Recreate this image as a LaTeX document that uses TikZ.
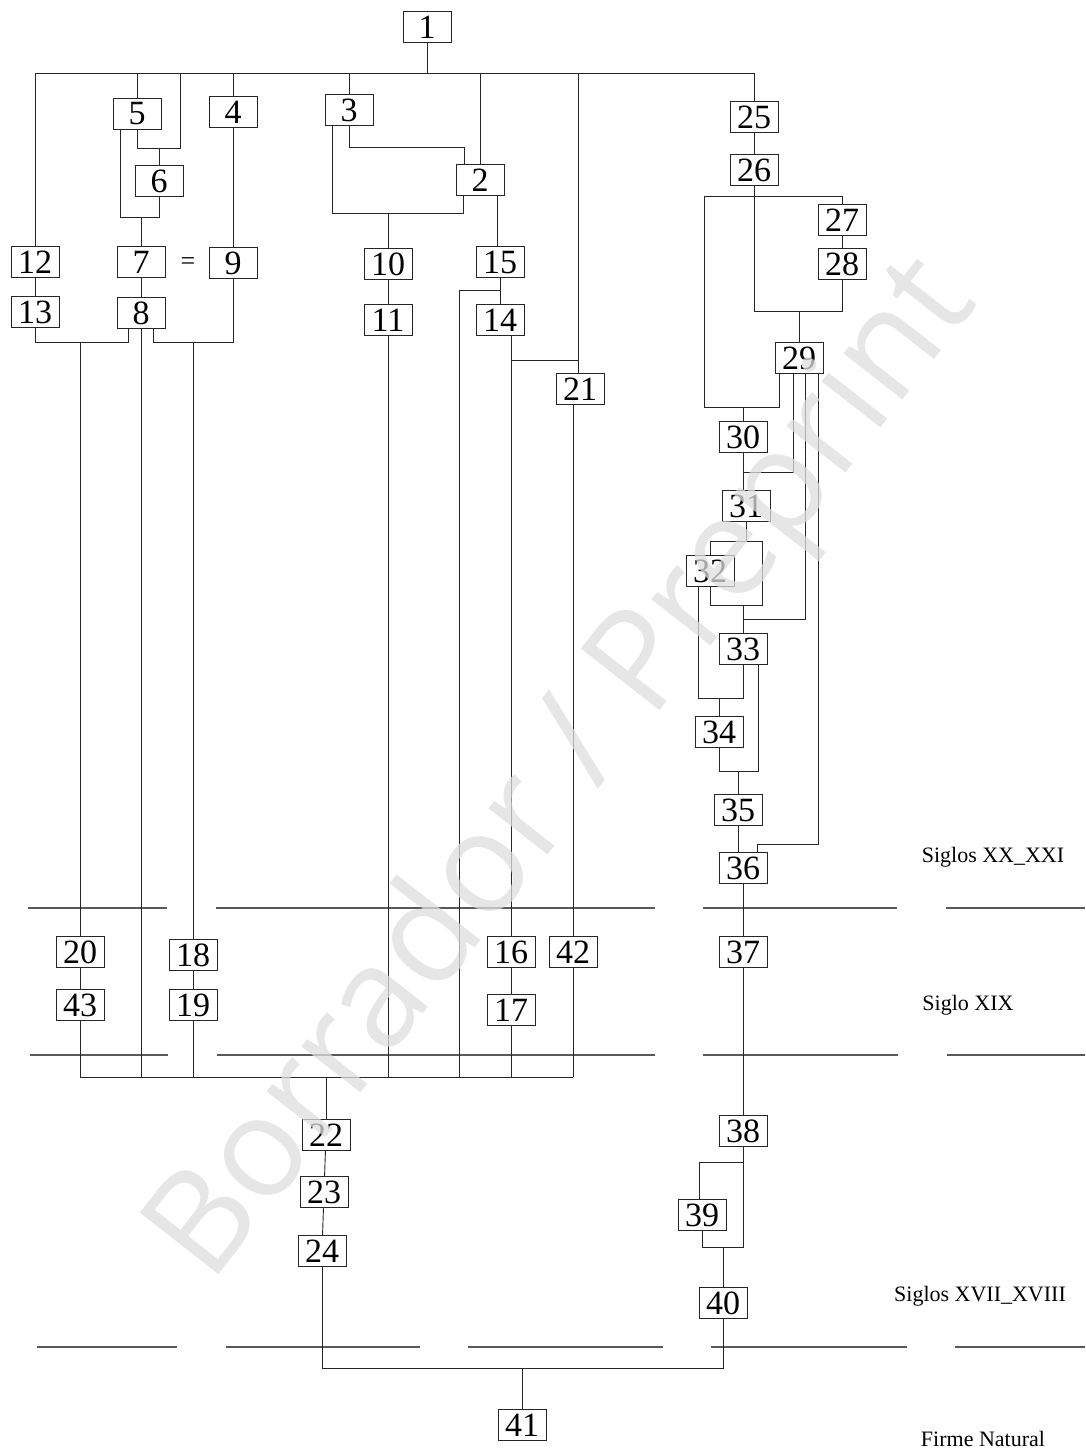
\documentclass[tikz,border=0pt]{standalone}
\usepackage{fontspec}
\setmainfont{Liberation Serif}
\newfontfamily\wmfont{Open Sans}

\begin{document}
\begin{tikzpicture}[x=1pt,y=-1pt,
  box/.style={draw=black!85, line width=0.9pt, minimum width=48pt, minimum height=31pt,
    inner sep=0pt, font=\fontsize{34}{34}\selectfont},
  link/.style={line width=0.9pt, black!85},
  era/.style={line width=1.2pt, black!65},
  tag/.style={font=\fontsize{22}{22}\selectfont}]
  \useasboundingbox (0,0) rectangle (1085,1452);

  % boxes
  \node[box] (n1) at (427,27) {1};
  \node[box] (n12) at (35,262) {12};
  \node[box] (n13) at (35,312) {13};
  \node[box] (n5) at (137,114) {5};
  \node[box] (n6) at (159,181) {6};
  \node[box] (n7) at (141,262) {7};
  \node[box] (n8) at (141,313) {8};
  \node[box] (n4) at (233,112) {4};
  \node[box] (n9) at (233,263) {9};
  \node (eq) at (188,264) {\fontsize{26}{26}\selectfont =};
  \node[box] (n3) at (349,110) {3};
  \node[box] (n2) at (480,180) {2};
  \node[box] (n10) at (388,264) {10};
  \node[box] (n11) at (388,320) {11};
  \node[box] (n15) at (500,262) {15};
  \node[box] (n14) at (500,320) {14};
  \node[box] (n21) at (580,389) {21};
  \node[box] (n20) at (80,952) {20};
  \node[box] (n43) at (80,1005) {43};
  \node[box] (n18) at (193,955) {18};
  \node[box] (n19) at (193,1005) {19};
  \node[box] (n16) at (511,952) {16};
  \node[box] (n17) at (511,1010) {17};
  \node[box] (n42) at (573,952) {42};
  \node[box] (n22) at (326,1135) {22};
  \node[box] (n23) at (324,1192) {23};
  \node[box] (n24) at (322,1251) {24};
  \node[box] (n41) at (522,1425) {41};
  \node[box] (n25) at (754,117) {25};
  \node[box] (n26) at (754,170) {26};
  \node[box] (n27) at (842,220) {27};
  \node[box] (n28) at (842,264) {28};
  \node[box] (n29) at (799,358) {29};
  \node[box] (n30) at (743,437) {30};
  \node[box] (n31) at (746,506) {31};
  \node[box] (n32) at (710,571) {32};
  \node[box] (n33) at (743,649) {33};
  \node[box] (n34) at (719,732) {34};
  \node[box] (n35) at (738,810) {35};
  \node[box] (n36) at (743,868) {36};
  \node[box] (n37) at (743,952) {37};
  \node[box] (n38) at (743,1131) {38};
  \node[box] (n39) at (702,1215) {39};
  \node[box] (n40) at (723,1303) {40};

  % era lines and labels
  \foreach \xa/\xb in {28/167, 216/655, 703/897, 946/1085}
    \draw[era] (\xa,908) -- (\xb,908);
  \foreach \xa/\xb in {30/168, 217/655, 703/898, 947/1085}
    \draw[era] (\xa,1055) -- (\xb,1055);
  \foreach \xa/\xb in {37/177, 226/420, 468/663, 711/907, 955/1085}
    \draw[era] (\xa,1347) -- (\xb,1347);
  \node[tag] (s20) at (993,857) {Siglos XX\_XXI};
  \node[tag] (s19) at (968,1005) {Siglo XIX};
  \node[tag] (s17) at (980,1296) {Siglos XVII\_XVIII};
  \node[tag] (sfn) at (983,1439) {Firme Natural};

  % top bus
  \coordinate (tL) at (35,73);
  \coordinate (tR) at (754,73);
  \coordinate (t6) at (180,73);
  \coordinate (t21) at (578,73);
  \draw[link] (tL) -- (tR);
  \draw[link] (n1) -- (n1 |- tL);
  \draw[link] (tL) -- (n12);
  \draw[link] (n12) -- (n13);
  \draw[link] (n5) -- (n5 |- tL);
  \draw[link] (n5) |- (t6 |- 0,148) -- (t6);
  \draw[link] (n6) -- (n6 |- 0,148);
  \draw[link] ([xshift=-17pt]n5.south) |- (n6.south |- 0,217) -- (n6.south);
  \draw[link] (n7) -- (n7 |- 0,217);
  \draw[link] (n7) -- (n8);
  \draw[link] (n4) -- (n4 |- tL);
  \draw[link] (n4) -- (n9);

  % left branches
  \draw[link] (n13.south) |- ([xshift=-13pt]n8.south |- 0,342) -- ([xshift=-13pt]n8.south);
  \draw[link] (n20 |- 0,342) -- (n20);
  \draw[link] ([xshift=12pt]n8.south) |- (n9.south |- 0,342) -- (n9.south);
  \draw[link] (n18 |- 0,342) -- (n18);
  \draw[link] (n20) -- (n43);
  \draw[link] (n18) -- (n19);

  % middle
  \draw[link] (n3) -- (n3 |- tL);
  \draw[link] (n2) -- (n2 |- tL);
  \draw[link] (n3.south) |- ([xshift=-16pt]n2.north |- 0,147) -- ([xshift=-16pt]n2.north);
  \draw[link] ([xshift=-17pt]n3.south) |- ([xshift=-17pt]n2.south |- 0,213) -- ([xshift=-17pt]n2.south);
  \draw[link] (n10 |- 0,213) -- (n10);
  \draw[link] (n10) -- (n11);
  \draw[link] ([xshift=17pt]n2.south) -- ([xshift=17pt]n2.south |- n15.north);
  \draw[link] (n15) -- (n14);
  \draw[link] (n15 |- 0,290) -| (459,1077);
  \draw[link] (t21) -- (t21 |- n21.north);
  \draw[link] ([xshift=11pt]n14.south) |- (t21 |- 0,360);
  \draw[link] ([xshift=11pt]n14.south) -- (n16);
  \draw[link] (n16) -- (n17);
  \draw[link] (n21.south -| n42) -- (n42);

  % lower bus
  \draw[link] (80,1077) -- (573,1077);
  \foreach \n in {n8, n11, n43, n19, n17, n42}
    \draw[link] (\n) -- (\n |- 0,1077);
  \draw[link] (n22 |- 0,1077) -- (n22);
  \draw[link] (n22) -- (n23);
  \draw[link] (n23) -- (n24);
  \draw[link] (n24) |- (n40 |- 0,1368) -- (n40);
  \draw[link] (n41 |- 0,1368) -- (n41);

  % right
  \draw[link] (tR) -- (n25);
  \draw[link] (n25) -- (n26);
  \draw[link] (n26) |- (n28 |- 0,311) -- (n28);
  \draw[link] (n27) -- (n28);
  \draw[link] (n29 |- 0,311) -- (n29);
  \draw[link] ([xshift=-20pt]n29.south) |- (704,407) |- (n27 |- 0,196) -- (n27);
  \draw[link] (n30 |- 0,407) -- (n30);
  \draw[link] (n30) -- (n30 |- n31.north);
  \draw[link] ([xshift=-6pt]n29.south) |- (n30 |- 0,472);
  \draw[link] ([xshift=6pt]n29.south) |- (n33 |- 0,619);
  \draw[link] ([xshift=19pt]n29.south) |- ([xshift=14pt]n36.north |- 0,844) -- ([xshift=14pt]n36.north);
  \draw[link] (n31) -- (n31 |- 0,541);
  \draw[link] (n32) |- (762,541) |- (n32.south |- 0,605) -- (n32.south);
  \draw[link] (n33 |- 0,605) -- (n33);
  \draw[link] ([xshift=-12pt]n32.south) |- (n33.south |- 0,698) -- (n33.south);
  \draw[link] (n34 |- 0,698) -- (n34);
  \draw[link] ([xshift=15pt]n33.south) |- (n34.south |- 0,771) -- (n34.south);
  \draw[link] (n35 |- 0,771) -- (n35);
  \draw[link] (n35) -- (n35 |- n36.north);
  \draw[link] (n36) -- (n37);
  \draw[link] (n37) -- (n38);
  \draw[link] (n38 |- 0,1162) -| ([xshift=-3pt]n39.north);
  \draw[link] (n38) |- (n39.south |- 0,1247) -- (n39.south);
  \draw[link] (n40 |- 0,1247) -- (n40);

  % watermark
  \node[rotate=52, text=black!13, text opacity=0.75,
    font=\wmfont\fontsize{140}{140}\selectfont] (wm) at (566,772) {Borrador / Preprint};
\end{tikzpicture}
\end{document}
